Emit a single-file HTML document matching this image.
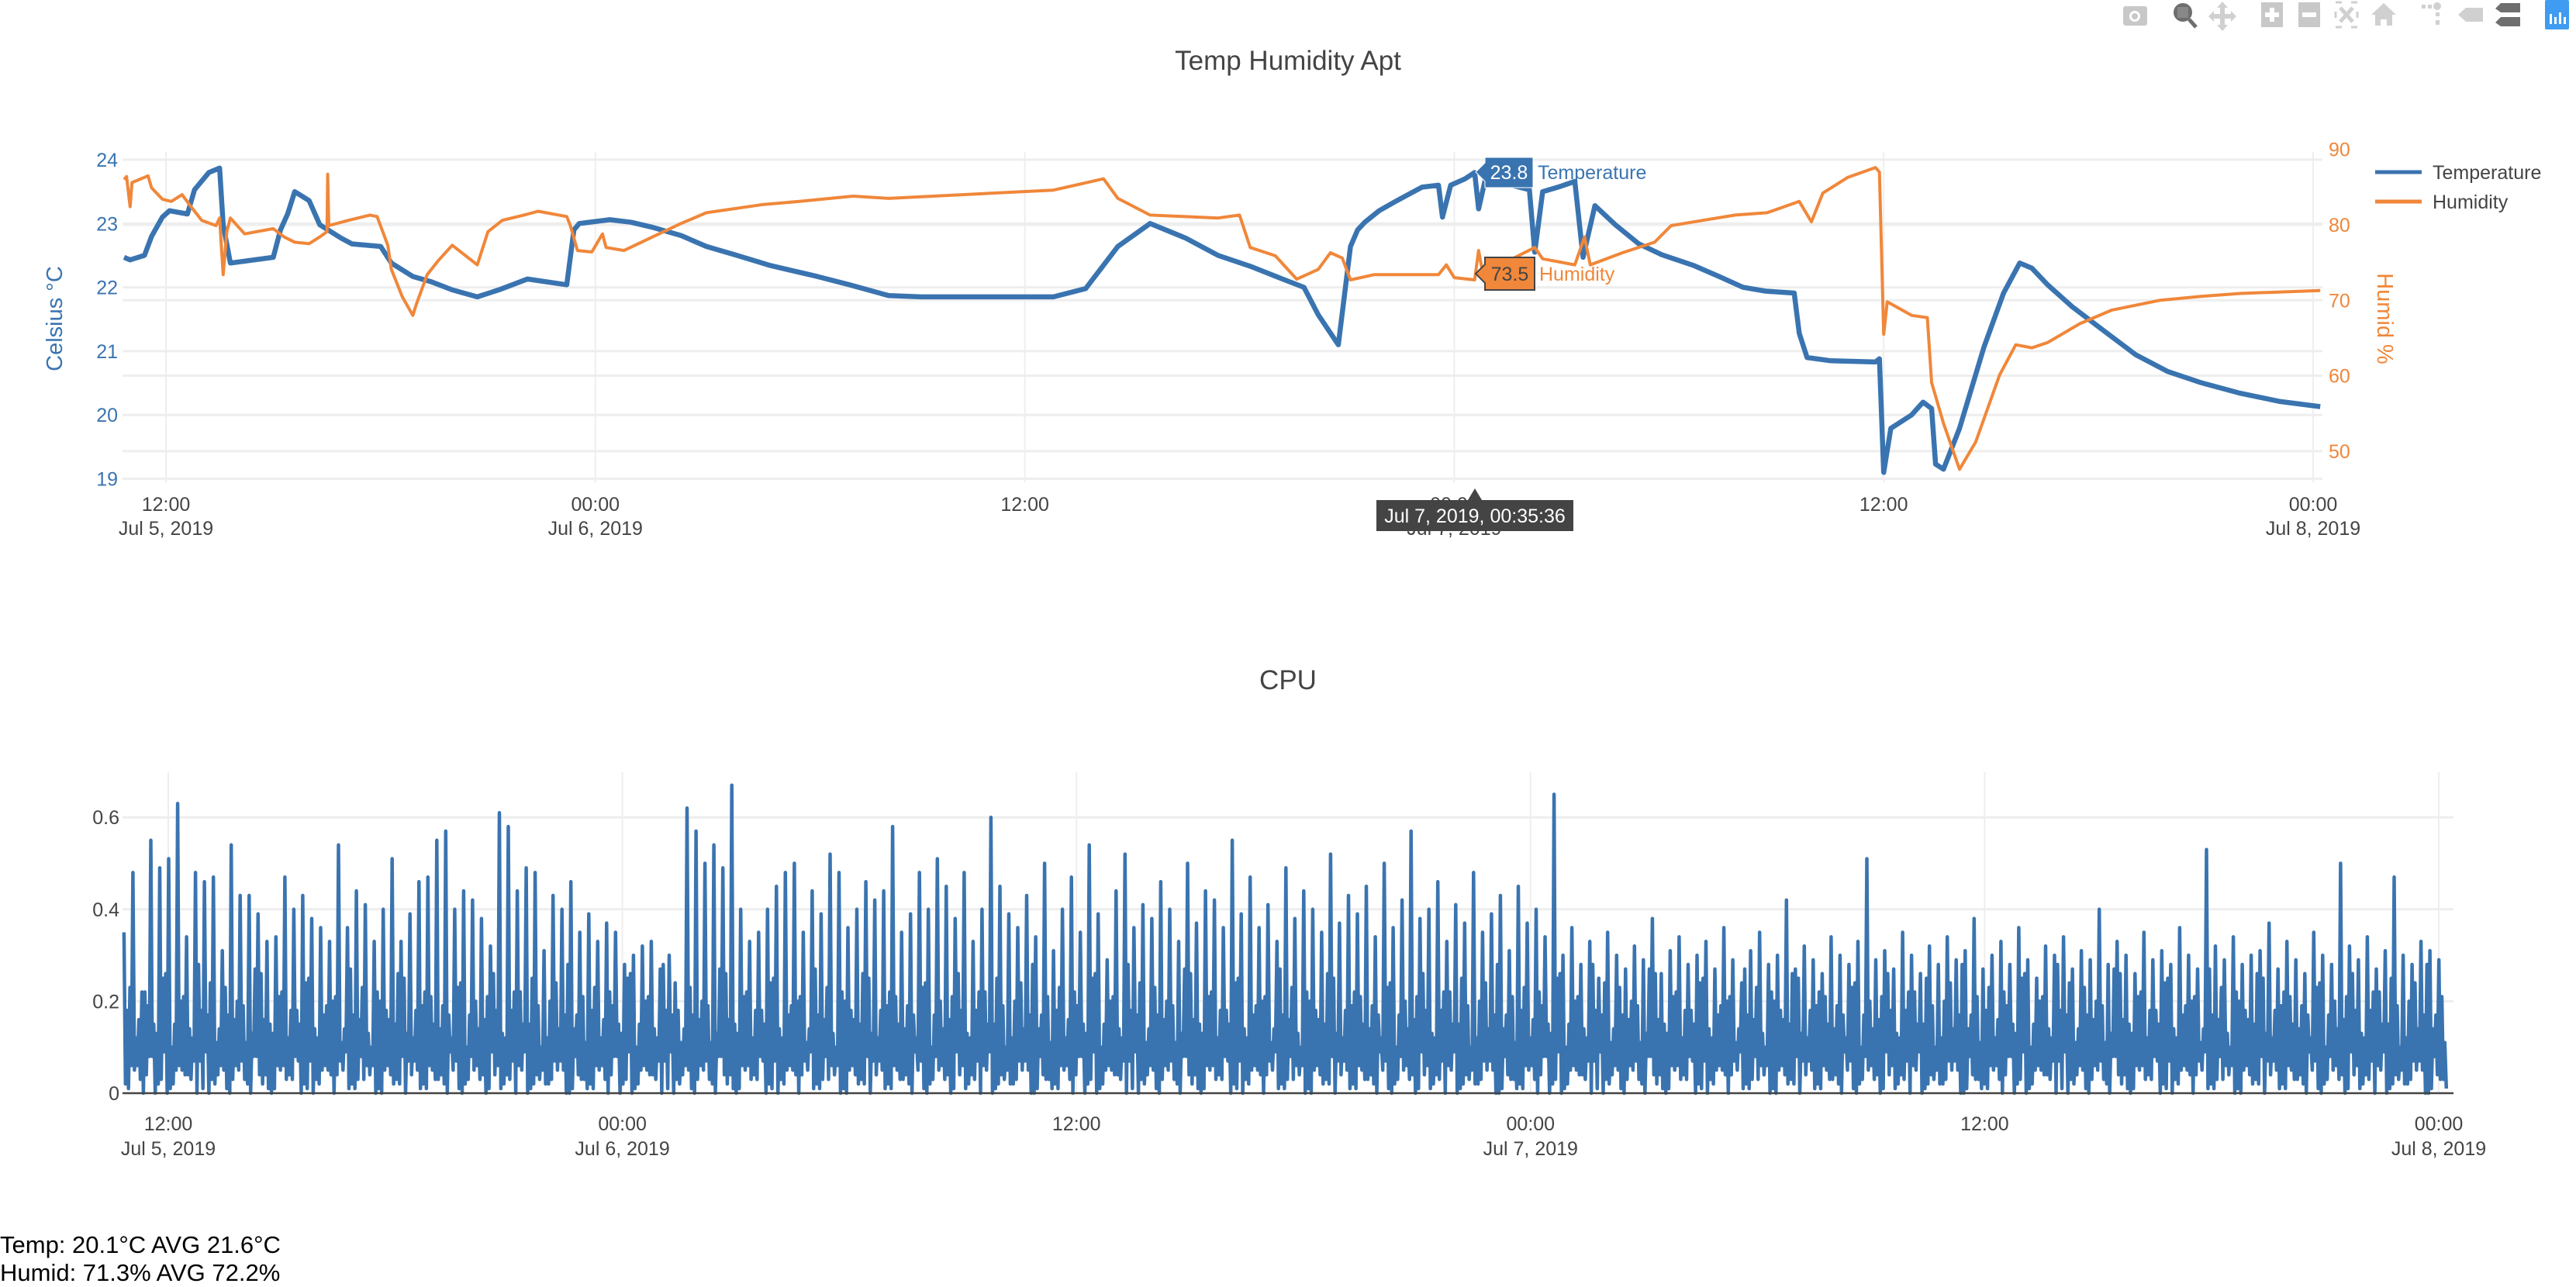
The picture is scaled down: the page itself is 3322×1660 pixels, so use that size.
<!DOCTYPE html>
<html><head><meta charset="utf-8"><title>Temp Humidity Apt</title>
<style>
html,body{margin:0;padding:0;background:#fff;width:3322px;height:1658px;overflow:hidden;font-family:"Liberation Sans",sans-serif;}
#footer{position:absolute;left:0;top:1588px;font-size:31px;line-height:36px;color:#000;}
</style></head>
<body>
<svg id="chart" width="3322" height="1658" xmlns="http://www.w3.org/2000/svg" style="position:absolute;left:0;top:0;font-family:'Liberation Sans',sans-serif;">
  <g id="modebar">
    <g><rect x="2738" y="8" width="31" height="25" rx="3" fill="#c8c8c8"/><circle cx="2753" cy="21" r="7" fill="#fff"/><circle cx="2753" cy="21" r="4" fill="#c8c8c8"/></g>
    <g><circle cx="2815" cy="16" r="12" fill="#6e6e6e"/><rect x="2808" y="9" width="14" height="14" fill="#888"/><line x1="2823" y1="25" x2="2832" y2="35" stroke="#6e6e6e" stroke-width="5"/></g>
    <g><path d="M2866 2 L2873 10 L2869 10 L2869 18 L2877 18 L2877 14 L2884 21 L2877 28 L2877 24 L2869 24 L2869 32 L2873 32 L2866 40 L2859 32 L2863 32 L2863 24 L2855 24 L2855 28 L2848 21 L2855 14 L2855 18 L2863 18 L2863 10 L2859 10Z" fill="#d0d0d0"/></g>
    <g><rect x="2916" y="3" width="28" height="32" fill="#c8c8c8"/><rect x="2927" y="10" width="6" height="18" fill="#fff"/><rect x="2921" y="16" width="18" height="6" fill="#fff"/></g>
    <g><rect x="2964" y="3" width="28" height="32" fill="#c8c8c8"/><rect x="2969" y="16" width="18" height="6" fill="#fff"/></g>
    <g><rect x="3012" y="3" width="28" height="32" fill="none" stroke="#d0d0d0" stroke-width="3" stroke-dasharray="8 12"/><path d="M3018 10 L3034 28 M3034 10 L3018 28" stroke="#d0d0d0" stroke-width="5"/></g>
    <g><path d="M3074 4 L3090 19 L3085 19 L3085 33 L3078 33 L3078 25 L3070 25 L3070 33 L3063 33 L3063 19 L3058 19Z" fill="#d0d0d0"/></g>
    <g><rect x="3123" y="6" width="5" height="5" fill="#d0d0d0"/><rect x="3131" y="6" width="5" height="5" fill="#d0d0d0"/><circle cx="3143" cy="8" r="5" fill="#d0d0d0"/><rect x="3141" y="16" width="5" height="5" fill="#d0d0d0"/><rect x="3141" y="26" width="5" height="6" fill="#d0d0d0"/></g>
    <g><path d="M3170 19 L3180 10 L3202 10 L3202 28 L3180 28Z" fill="#d0d0d0"/></g>
    <g><path d="M3218 11 L3225 4 L3250 4 L3250 16 L3225 16Z" fill="#6e6e6e"/><path d="M3218 29 L3225 22 L3250 22 L3250 34 L3225 34Z" fill="#6e6e6e"/></g>
    <g><rect x="3282" y="0" width="31" height="38" rx="2" fill="#3f9cf0"/><rect x="3288" y="18" width="3" height="13" fill="#fff"/><rect x="3294" y="22" width="3" height="9" fill="#fff"/><rect x="3300" y="16" width="3" height="15" fill="#fff"/><rect x="3306" y="22" width="3" height="9" fill="#fff"/></g>
  </g>
  <text x="1661" y="90" text-anchor="middle" font-size="35" fill="#444">Temp Humidity Apt</text>
  <text x="1661" y="889" text-anchor="middle" font-size="35" fill="#444">CPU</text>
  <g id="topG"></g>
  <g id="botG"></g>
  <g>
    <g><line x1="3063" y1="222" x2="3123" y2="222" stroke="#3a74b0" stroke-width="5"/><text x="3137" y="231" font-size="25" fill="#444">Temperature</text></g>
    <g><line x1="3063" y1="260" x2="3123" y2="260" stroke="#f0873a" stroke-width="5"/><text x="3137" y="269" font-size="25" fill="#444">Humidity</text></g>
  </g>
</svg>
<div id="footer"><div>Temp: 20.1°C AVG 21.6°C</div><div>Humid: 71.3% AVG 72.2%</div></div>
<script>
const tempHours=[10.83,11.0,11.4,11.6,11.9,12.1,12.6,12.8,13.2,13.5,13.6,13.8,15.0,15.2,15.4,15.6,16.0,16.3,16.9,17.2,18.0,18.3,18.9,19.4,20.0,20.7,21.3,22.1,23.2,23.4,23.55,24.4,25.0,25.6,26.4,27.1,27.9,28.9,30.2,31.1,32.2,33.1,36.8,37.7,38.6,39.5,40.5,41.4,42.3,43.2,43.8,44.2,44.76,45.1,45.3,45.5,45.9,46.4,47.1,47.56,47.67,47.9,48.3,48.57,48.68,48.9,49.6,50.1,50.25,50.47,50.9,51.37,51.6,51.93,52.5,53.16,53.8,54.7,55.4,56.07,56.7,57.5,57.64,57.86,58.5,59.77,59.88,60.0,60.2,60.78,61.1,61.34,61.45,61.67,62.12,62.8,63.35,63.8,64.14,64.58,65.26,66.15,67.05,67.94,68.84,69.96,71.08,72.2];
const tempValues=[22.47,22.43,22.5,22.8,23.1,23.2,23.15,23.53,23.8,23.87,22.98,22.38,22.47,22.9,23.15,23.5,23.36,22.98,22.77,22.68,22.64,22.38,22.17,22.09,21.96,21.85,21.96,22.13,22.04,22.9,23.0,23.06,23.02,22.94,22.81,22.64,22.51,22.34,22.17,22.04,21.87,21.85,21.85,21.98,22.64,23.0,22.77,22.5,22.33,22.13,22.0,21.57,21.1,22.64,22.9,23.02,23.2,23.36,23.57,23.6,23.1,23.6,23.7,23.8,23.23,23.77,23.6,23.53,22.55,23.5,23.57,23.66,22.47,23.28,22.98,22.68,22.51,22.34,22.17,22.0,21.94,21.91,21.28,20.9,20.85,20.83,20.88,19.1,19.79,20.0,20.2,20.1,19.23,19.15,19.79,21.06,21.91,22.38,22.3,22.04,21.7,21.32,20.94,20.68,20.51,20.34,20.21,20.13];
const humidHours=[10.83,10.9,11.0,11.05,11.5,11.6,11.9,12.15,12.45,12.7,13.0,13.4,13.5,13.6,13.7,13.8,14.2,15.0,15.3,15.6,16.0,16.3,16.5,16.52,16.55,17.1,17.7,17.9,18.2,18.3,18.6,18.9,19.0,19.3,19.6,20.0,20.7,21.0,21.4,22.0,22.4,23.2,23.3,23.5,23.9,24.2,24.3,24.8,25.6,26.4,27.1,28.7,29.7,31.2,32.2,36.8,38.2,38.6,39.5,41.4,42.0,42.3,43.0,43.6,44.2,44.54,44.87,45.1,45.77,47.56,47.78,48.0,48.57,48.68,48.8,50.25,50.47,51.37,51.64,51.8,52.7,53.6,54.06,54.95,55.85,56.74,57.64,57.98,58.3,59.0,59.77,59.88,60.0,60.1,60.78,61.22,61.34,61.67,62.12,62.57,63.24,63.69,64.14,64.58,65.48,66.38,67.72,68.84,69.96,72.2];
const humidValues=[86.0,86.4,82.4,85.6,86.5,84.9,83.4,83.1,84.0,82.4,80.6,79.9,80.9,73.4,79.1,80.9,78.8,79.5,78.4,77.7,77.5,78.4,79.1,86.7,79.9,80.6,81.3,81.1,77.3,74.1,70.5,68.0,69.5,73.4,75.2,77.3,74.7,79.1,80.6,81.3,81.8,81.1,79.9,76.6,76.4,78.8,77.0,76.6,78.4,80.2,81.6,82.7,83.1,83.8,83.5,84.6,86.1,83.5,81.3,80.9,81.3,77.0,75.9,72.8,74.1,76.3,75.6,72.7,73.4,73.4,74.7,73.0,72.7,76.6,73.5,77.0,75.5,74.7,78.4,74.7,76.3,77.7,79.9,80.6,81.3,81.6,83.1,80.4,84.2,86.3,87.6,87.0,65.5,69.8,68.0,67.7,59.1,53.7,47.6,51.2,60.1,64.1,63.7,64.4,66.9,68.7,70.0,70.5,70.9,71.3];
const tempTicks=[19,20,21,22,23,24];
const humidTicks=[50,60,70,80,90];
const timeTickHours=[12,24,36,48,60,72];
const timeTickLabels=[["12:00","Jul 5, 2019"],["00:00","Jul 6, 2019"],["12:00",""],["00:00","Jul 7, 2019"],["12:00",""],["00:00","Jul 8, 2019"]];
const cpuTicks=[0,0.2,0.4,0.6];
const cpuStartHour=10.83, cpuEndHour=72.2;
const cpuPeaks=[.35,.48,.22,.55,.49,.51,.63,.34,.48,.46,.47,.31,.54,.43,.43,.39,.33,.34,.47,.40,.43,.38,.36,.33,.54,.36,.44,.41,.33,.40,.51,.33,.39,.46,.47,.55,.57,.40,.44,.42,.38,.32,.61,.58,.44,.49,.48,.31,.43,.40,.46,.35,.39,.33,.37,.35,.28,.30,.32,.33,
.27,.30,.18,
.62,.57,.50,.54,.49,.67,.40,.33,.35,.40,.45,.48,.50,.35,.44,.39,.52,.48,.36,.40,.46,.42,.44,.58,.35,.39,.48,.40,.51,.45,.38,.48,.33,.40,.60,.45,.39,.36,.43,.34,.50,.31,.40,.47,.35,.54,.39,.29,.44,.52,.36,.41,.38,.46,.40,.33,.50,.37,.44,.42,.36,.55,.39,.47,.36,.41,.33,.49,.38,.44,.40,.35,.52,.37,.43,.39,.45,.34,.50,.36,.42,.57,.38,.40,.46,.33,.41,.37,.48,.35,.39,.43,.31,.45,.37,.40,.34,
.65,.30,.36,.28,.33,.25,.35,.30,.27,.32,.29,.38,.26,.31,.34,.28,.30,.33,.27,.36,.29,.24,.31,.35,.28,.30,.42,.27,.32,.29,.26,.34,.30,.28,.33,.51,.29,.31,.27,.35,.30,.26,.32,.28,.34,.29,.31,.38,.27,.30,.33,.28,.36,.29,.25,.32,.30,.34,.27,.31,.29,.40,.28,.33,.30,.26,.35,.29,.31,.28,.36,.30,.27,.53,.32,.29,.34,.28,.30,.31,.37,.27,.33,.29,.26,.35,.30,.28,.50,.32,.29,.34,.27,.31,.47,.30,.28,.33,.31,.29];
const cpuLows=[.02,.05,0,.08,.03,.01,.06,.04,0,.09,.02,.05,.03,.07,0,.04,.01,.06,.03,.08,.02,0,.05,.04,.07,.01,.03,.06,0,.05,.02,.08,.04,.01,.06,.03,0,.07,.02,.05,.04,.09,.01,.03,.06,0,.04,.02,.07,.05,.01,.03];
const cpuMids=[.18,.12,.22,.15,.25,.10,.20,.14,.28,.17,.11,.23,.16,.19,.13,.26,.15,.21,.12,.18,.24,.14,.17,.20,.11,.27,.16,.13,.22,.18,.15,.25,.12,.19,.21,.14,.17,.23,.10,.20,.16,.26,.13,.18,.22,.15,.19,.12,.24,.17,.14,.21];

const NS="http://www.w3.org/2000/svg";
function mk(parent,tag,attrs,text){const e=document.createElementNS(NS,tag);for(const k in attrs)e.setAttribute(k,attrs[k]);if(text!==undefined)e.textContent=text;parent.appendChild(e);return e;}

const TL=158,TR=2995,TT=196,TB=622;
const xTop=h=>214+(h-12)*46.15;
const yTemp=t=>206+(24-t)*82.3;
const yHum=v=>290-(v-80)*9.73;
const topG=document.getElementById('topG');
const tg=mk(topG,'g',{});


timeTickHours.forEach(h=>{const l=mk(tg,'line',{x1:xTop(h),x2:xTop(h),y1:TT,y2:TB,stroke:'#eee','stroke-width':2});});
tempTicks.forEach(t=>{const l=mk(tg,'line',{x1:TL,x2:TR,y1:yTemp(t),y2:yTemp(t),stroke:'#eee','stroke-width':3});});
humidTicks.filter(v=>v<90).forEach(v=>{const l=mk(tg,'line',{x1:TL,x2:TR,y1:yHum(v),y2:yHum(v),stroke:'#eee','stroke-width':3});});
tempTicks.forEach(t=>{const e=mk(topG,'text',{x:152,y:yTemp(t)+9,'text-anchor':'end','font-size':25,fill:'#3a74b0'},String(t));});
humidTicks.forEach(v=>{const e=mk(topG,'text',{x:3003,y:yHum(v)+9,'font-size':25,fill:'#f0873a'},String(v));});
timeTickHours.forEach((h,i)=>{const e=mk(topG,'text',{x:xTop(h),y:659,'text-anchor':'middle','font-size':25,fill:'#444'},timeTickLabels[i][0]);
 const d=mk(topG,'text',{x:xTop(h),y:690,'text-anchor':'middle','font-size':25,fill:'#444'},timeTickLabels[i][1]);});
const yt1=mk(topG,'text',{x:0,y:0,transform:'translate(80,411) rotate(-90)','text-anchor':'middle','font-size':29,fill:'#3a74b0'},'Celsius °C');


const yt2=mk(topG,'text',{x:0,y:0,transform:'translate(3066,411) rotate(90)','text-anchor':'middle','font-size':29,fill:'#f0873a'},'Humid %');


const tp=mk(topG,'path',{d:tempHours.map((h,i)=>(i?'L':'M')+xTop(h).toFixed(1)+' '+yTemp(tempValues[i]).toFixed(1)).join(''),fill:'none',stroke:'#3a74b0','stroke-width':6.5,'stroke-linejoin':'round'});


const hp=mk(topG,'path',{d:humidHours.map((h,i)=>(i?'L':'M')+xTop(h).toFixed(1)+' '+yHum(humidValues[i]).toFixed(1)).join(''),fill:'none',stroke:'#f0873a','stroke-width':4,'stroke-linejoin':'round'});


const hl=mk(topG,'g',{});


mk(hl,'path',{d:'M1903 222 L1915 210 L1915 203 L1977 203 L1977 242 L1915 242 L1915 234Z',fill:'#3a74b0',stroke:'#fff','stroke-width':1});
mk(hl,'text',{x:1946,y:231,'text-anchor':'middle','font-size':25,fill:'#fff'},'23.8');
mk(hl,'text',{x:1983,y:231,'font-size':25,fill:'#3a74b0'},'Temperature');
mk(hl,'path',{d:'M1903 353 L1915 341 L1915 332 L1979 332 L1979 374 L1915 374 L1915 365Z',fill:'#f0873a',stroke:'#444','stroke-width':2});
mk(hl,'text',{x:1947,y:362,'text-anchor':'middle','font-size':25,fill:'#444'},'73.5');
mk(hl,'text',{x:1985,y:362,'font-size':25,fill:'#f0873a'},'Humidity');
mk(hl,'path',{d:'M1902 630 L1911 645 L2029 645 L2029 685 L1775 685 L1775 645 L1893 645Z',fill:'#444'});
mk(hl,'text',{x:1902,y:674,'text-anchor':'middle','font-size':25,fill:'#fff'},'Jul 7, 2019, 00:35:36');

const BL=158,BR=3164,BT=996,BB=1410;
const xBot=h=>217+(h-12)*48.8;
const yCpu=v=>1410-v*593;
const botG=document.getElementById('botG');
const bg=mk(botG,'g',{});


timeTickHours.forEach(h=>{const l=mk(bg,'line',{x1:xBot(h),x2:xBot(h),y1:BT,y2:BB,stroke:'#eee','stroke-width':2});});
cpuTicks.forEach(v=>{if(v===0)return;const l=mk(bg,'line',{x1:BL,x2:BR,y1:yCpu(v),y2:yCpu(v),stroke:'#eee','stroke-width':3});});
cpuTicks.forEach(v=>{const e=mk(botG,'text',{x:154,y:yCpu(v)+9,'text-anchor':'end','font-size':25,fill:'#444'},String(v));});
timeTickHours.forEach((h,i)=>{const e=mk(botG,'text',{x:xBot(h),y:1458,'text-anchor':'middle','font-size':25,fill:'#444'},timeTickLabels[i][0]);
 const d=mk(botG,'text',{x:xBot(h),y:1490,'text-anchor':'middle','font-size':25,fill:'#444'},timeTickLabels[i][1]);});
const pts=[];
cpuPeaks.forEach((p,i)=>{const n=cpuLows.length;pts.push(p,cpuLows[i%n],cpuMids[i%cpuMids.length],cpuLows[(i+5)%n],cpuMids[(i+11)%cpuMids.length],cpuLows[(i+17)%n]);});
const step=(cpuEndHour-cpuStartHour)/(pts.length-1);
const cp=mk(botG,'path',{d:pts.map((v,i)=>(i?'L':'M')+xBot(cpuStartHour+i*step).toFixed(1)+' '+yCpu(v).toFixed(1)).join(''),fill:'none',stroke:'#3a74b0','stroke-width':4.5,'stroke-linejoin':'round'});


const zl=mk(botG,'line',{x1:BL,x2:BR,y1:yCpu(0),y2:yCpu(0),stroke:'#444','stroke-width':2.5});


</script>
</body></html>
